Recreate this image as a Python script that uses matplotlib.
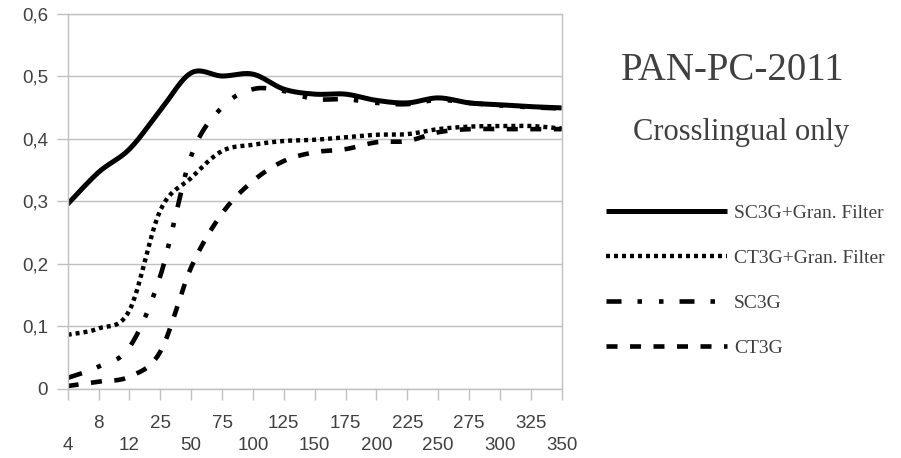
import numpy as np
import matplotlib
matplotlib.use("Agg")
import matplotlib.pyplot as plt

categories = ["4", "8", "12", "25", "50", "75", "100", "125", "150", "175",
              "200", "225", "250", "275", "300", "325", "350"]
sc3g_gran = [0.295, 0.346, 0.383, 0.445, 0.505, 0.500, 0.503, 0.479, 0.471,
             0.471, 0.461, 0.457, 0.465, 0.457, 0.454, 0.451, 0.449]
ct3g_gran = [0.086, 0.096, 0.125, 0.285, 0.337, 0.380, 0.390, 0.396, 0.398,
             0.402, 0.406, 0.407, 0.415, 0.419, 0.420, 0.420, 0.416]
sc3g = [0.017, 0.035, 0.066, 0.180, 0.372, 0.450, 0.479, 0.476, 0.463,
        0.463, 0.457, 0.455, 0.462, 0.457, 0.453, 0.450, 0.448]
ct3g = [0.004, 0.011, 0.019, 0.059, 0.194, 0.280, 0.332, 0.364, 0.378,
        0.383, 0.394, 0.396, 0.410, 0.415, 0.415, 0.415, 0.415]
series_names = ["SC3G+Gran. Filter", "CT3G+Gran. Filter", "SC3G", "CT3G"]
title_text = "PAN-PC-2011"
subtitle_text = "Crosslingual only"
yticks = [0, 0.1, 0.2, 0.3, 0.4, 0.5, 0.6]


def smooth(xs, ys, n=24):
    """Catmull-Rom style Bezier smoothing (like spreadsheet smoothed lines)."""
    P = np.column_stack([xs, ys]).astype(float)
    m = len(P)
    out = [P[0]]
    t = np.linspace(0, 1, n + 1)[1:]
    for i in range(m - 1):
        p0 = P[i - 1] if i > 0 else P[i]
        p1 = P[i]
        p2 = P[i + 1]
        p3 = P[i + 2] if i + 2 < m else P[i + 1]
        c1 = p1 + (p2 - p0) / 6.0
        c2 = p2 - (p3 - p1) / 6.0
        for tt in t:
            b = ((1 - tt) ** 3) * p1 + 3 * ((1 - tt) ** 2) * tt * c1 \
                + 3 * (1 - tt) * tt ** 2 * c2 + tt ** 3 * p2
            out.append(b)
    out = np.array(out)
    return out[:, 0], out[:, 1]


plt.rcParams['lines.scale_dashes'] = False
fig = plt.figure(figsize=(9.01, 4.58), dpi=100)
ax = fig.add_axes([0.0751, 0.1517, 0.5483, 0.8188])

x = np.arange(len(categories))
px = 0.72  # points per pixel
lw = 4.6 * px

styles = [
    dict(linestyle='-', linewidth=5.0 * px),
    dict(linestyle=(0, (4 * px, 4 * px)), linewidth=4.4 * px),
    dict(linestyle=(0, (15 * px, 16 * px, 4.5 * px, 17 * px, 4.5 * px, 16 * px)), linewidth=lw),
    dict(linestyle=(0, (11 * px, 12.5 * px)), linewidth=lw),
]
data = [sc3g_gran, ct3g_gran, sc3g, ct3g]
handles = []
for vals, st, name in zip(data, styles, series_names):
    sx, sy = smooth(x, vals)
    h, = ax.plot(sx, sy, color='black', solid_capstyle='butt',
                 dash_capstyle='butt', label=name, **st)
    handles.append(h)

ax.set_xlim(0, len(categories) - 1)
ax.set_ylim(0, 0.6)
ax.set_yticks(yticks)
ax.set_yticklabels([f"{v:.1f}".replace(".", ",") if v else "0" for v in yticks])
ax.set_xticks(x)
ax.set_xticklabels(["\n" + c if i % 2 == 0 else c for i, c in enumerate(categories)])

gridc = '#C0C0C0'
ax.grid(axis='y', color=gridc, linewidth=1.0)
ax.set_axisbelow(True)
for s in ['left', 'right', 'bottom', 'top']:
    ax.spines[s].set_color(gridc)
    ax.spines[s].set_linewidth(1.0)
ax.tick_params(axis='both', color=gridc, length=8, width=1.0,
               labelcolor='#404040', labelsize=13.5, pad=6)
ax.tick_params(axis='x', pad=11)
for lab in ax.get_xticklabels() + ax.get_yticklabels():
    lab.set_family('Liberation Sans')
for lab in ax.get_xticklabels():
    lab.set_linespacing(1.4)

fig.text(732.5 / 901, 1 - 80 / 458, title_text, family='Liberation Serif', fontsize=28,
         color='#404040', ha='center', va='baseline')
fig.text(741.5 / 901, 1 - 140 / 458, subtitle_text, family='Liberation Serif', fontsize=22,
         color='#404040', ha='center', va='baseline')

fs_px = 14 / 0.72
leg = fig.legend(handles=handles, loc='upper left',
                 bbox_to_anchor=(606 / 901, 1 - 204 / 458),
                 frameon=False, borderpad=0, borderaxespad=0,
                 handlelength=121 / fs_px, handletextpad=7 / fs_px,
                 labelspacing=1.42,
                 prop={'family': 'Liberation Serif', 'size': 14})
for t in leg.get_texts():
    t.set_color('#404040')

fig.savefig('out.png', dpi=100)
